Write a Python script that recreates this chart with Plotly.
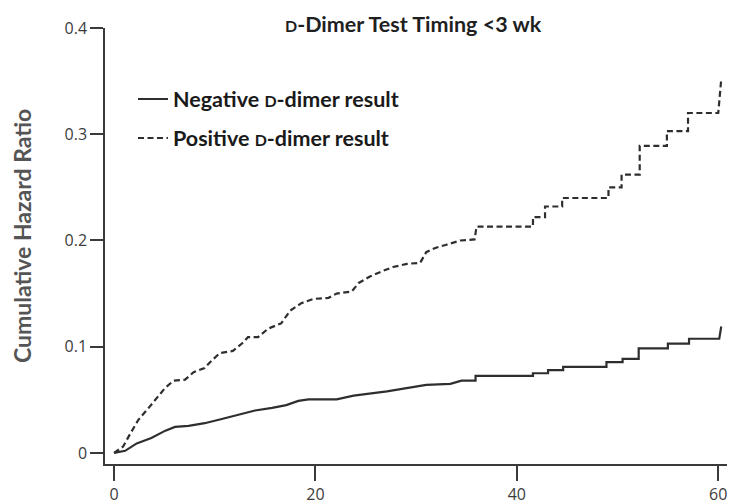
import plotly.graph_objects as go

# ---- data ----
neg_t = [0, 1.1, 2.25, 3.7, 5.1, 6.05, 7.4, 9.0, 10.7, 12.3, 14.0, 15.7, 17.1, 18.3, 19.3,
         22.1, 23.8, 27.1, 31.0, 33.4, 34.5, 35.9, 35.9, 41.6, 41.6, 43.1, 43.1, 44.6, 44.6,
         48.9, 48.9, 50.5, 50.5, 52.1, 52.1, 55.0, 55.0, 57.1, 57.1, 60.1, 60.3]
neg_v = [0, 0.002, 0.009, 0.014, 0.021, 0.0245, 0.0255, 0.028, 0.032, 0.036, 0.040, 0.0425,
         0.045, 0.049, 0.0505, 0.0505, 0.054, 0.058, 0.064, 0.065, 0.068, 0.068, 0.0725,
         0.0725, 0.075, 0.075, 0.078, 0.078, 0.081, 0.081, 0.0855, 0.0855, 0.0885, 0.0885,
         0.0985, 0.0985, 0.103, 0.103, 0.1075, 0.1075, 0.119]

pos_t = [0, 0.9, 1.6, 2.4, 3.4, 4.2, 5.05, 5.9, 7.05, 7.9, 9.0, 9.7, 10.5, 11.8, 12.7, 13.3,
         14.3, 15.3, 16.6, 17.5, 18.6, 19.8, 21.3, 22.1, 23.6, 24.3, 25.4, 26.6, 27.7, 29.1,
         30.4, 31.0, 31.9, 33.0, 34.4, 35.8, 36.0, 41.6, 41.6, 42.8, 42.8, 44.5, 44.5, 49.1,
         49.1, 50.4, 50.4, 52.2, 52.2, 54.9, 54.9, 57.0, 57.0, 60.0, 60.3]
pos_v = [0, 0.006, 0.018, 0.031, 0.042, 0.051, 0.061, 0.068, 0.069, 0.076, 0.080, 0.087,
         0.094, 0.096, 0.103, 0.109, 0.109, 0.117, 0.122, 0.134, 0.141, 0.145, 0.146, 0.150,
         0.152, 0.160, 0.166, 0.171, 0.175, 0.178, 0.179, 0.189, 0.193, 0.196, 0.200, 0.201,
         0.213, 0.213, 0.222, 0.222, 0.232, 0.232, 0.240, 0.240, 0.250, 0.250, 0.262, 0.262,
         0.289, 0.289, 0.303, 0.303, 0.320, 0.320, 0.352]

x_ticks = [0, 20, 40, 60]
x_ticklabels = ["0", "20", "40", "60"]
y_ticks = [0, 0.1, 0.2, 0.3, 0.4]
y_ticklabels = ["0", "0.1", "0.2", "0.3", "0.4"]

SC = '<span style="font-size:16px">D</span>'
neg_name = "Negative " + SC + "-dimer result"
pos_name = "Positive " + SC + "-dimer result"
title_text = '<span style="font-size:16px">D</span>-Dimer Test Timing &lt;3 wk'
y_title = "Cumulative Hazard Ratio"

LINE_COL = "#2e2e2e"
AX_COL = "#3a3a3a"

fig = go.Figure()
fig.add_trace(go.Scatter(x=neg_t, y=neg_v, mode="lines", name=neg_name,
                         line=dict(color=LINE_COL, width=2.2), legend="legend"))
fig.add_trace(go.Scatter(x=pos_t, y=pos_v, mode="lines", name=pos_name,
                         line=dict(color=LINE_COL, width=2.2, dash="6px,3.5px"),
                         legend="legend2"))

W, H = 730, 504
ml, mr, mt, mb = 105, 3, 28, 40
pw, ph = W - ml - mr, H - mt - mb


def px_x(px):
    return (px - ml) / pw


def px_y(py):
    return (H - mb - py) / ph


leg_font = dict(family="Lato", size=21.5, color="#1a1a1a", weight="bold")

fig.update_layout(
    width=W, height=H,
    margin=dict(l=ml, r=mr, t=mt, b=mb, autoexpand=False),
    paper_bgcolor="white", plot_bgcolor="white",
    showlegend=True,
    legend=dict(x=px_x(133), y=px_y(99), xanchor="left", yanchor="middle",
                bgcolor="rgba(0,0,0,0)", font=leg_font),
    legend2=dict(x=px_x(133), y=px_y(138), xanchor="left", yanchor="middle",
                 bgcolor="rgba(0,0,0,0)", font=leg_font),
    xaxis=dict(range=[-0.9, 60.87], tickvals=x_ticks, ticktext=x_ticklabels,
               automargin=False,
               showline=True, linecolor=AX_COL, linewidth=1.5, showgrid=False,
               zeroline=False, ticks="outside", ticklen=15, tickwidth=1.5,
               tickcolor=AX_COL, ticklabelstandoff=0,
               tickfont=dict(family="Open Sans", size=16, color="#3c3c3c")),
    yaxis=dict(range=[-0.0104, 0.4], tickvals=y_ticks, ticktext=y_ticklabels,
               automargin=False,
               showline=True, linecolor=AX_COL, linewidth=1.5, showgrid=False,
               zeroline=False, ticks="outside", ticklen=13, tickwidth=1.5,
               tickcolor=AX_COL,
               tickfont=dict(family="Open Sans", size=16, color="#3c3c3c")),
    annotations=[
        dict(text=title_text, x=px_x(413), y=px_y(24), xref="paper", yref="paper",
             xanchor="center", yanchor="middle", showarrow=False,
             font=dict(family="Lato", size=21.5, color="#1f1f1f", weight="bold")),
        dict(text=y_title, x=px_x(22), y=px_y(236), xref="paper", yref="paper",
             xanchor="center", yanchor="middle", showarrow=False, textangle=-90,
             font=dict(family="Lato", size=23, color="#555555", weight="bold")),
    ],
)

fig.write_html("out.html")
